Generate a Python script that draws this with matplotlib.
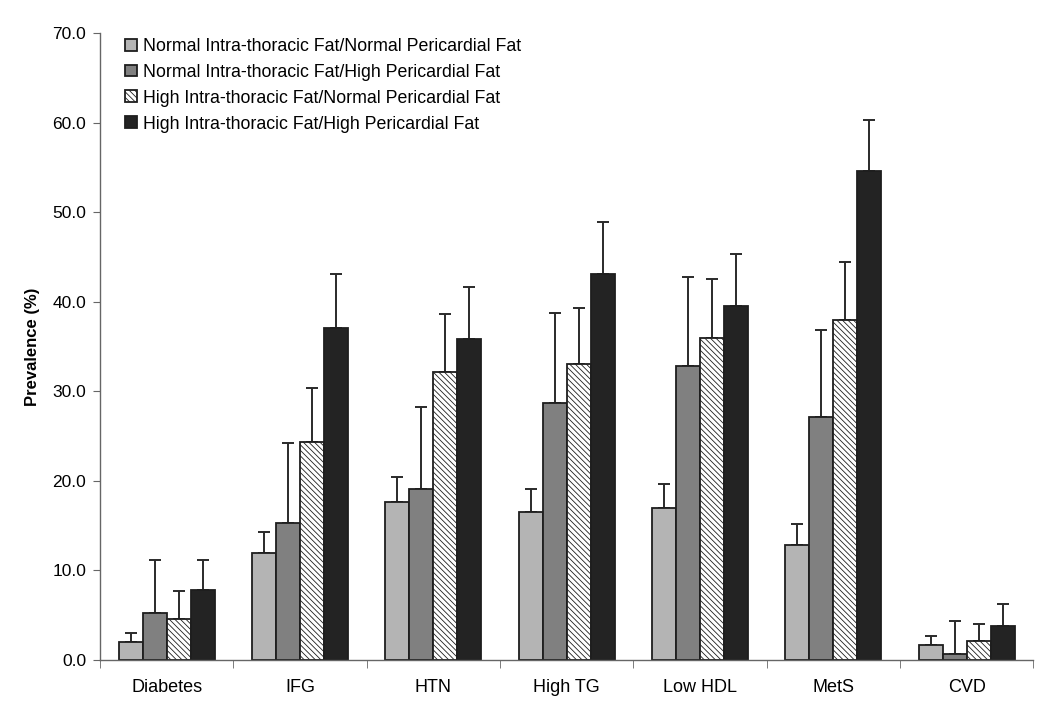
import numpy as np
import matplotlib.pyplot as plt
from matplotlib.ticker import FixedLocator, NullFormatter

plt.rcParams["font.family"] = ["Liberation Sans", "DejaVu Sans"]
plt.rcParams["hatch.color"] = "#5a5a5a"
plt.rcParams["hatch.linewidth"] = 0.6

categories = ["Diabetes", "IFG", "HTN", "High TG", "Low HDL", "MetS", "CVD"]
series = [
    "Normal Intra-thoracic Fat/Normal Pericardial Fat",
    "Normal Intra-thoracic Fat/High Pericardial Fat",
    "High Intra-thoracic Fat/Normal Pericardial Fat",
    "High Intra-thoracic Fat/High Pericardial Fat",
]
# prevalence (%) per series, one value per category
nn = [2.0, 11.9, 17.6, 16.5, 17.0, 12.8, 1.7]
nh = [5.2, 15.3, 19.1, 28.7, 32.8, 27.1, 0.7]
hn = [4.6, 24.3, 32.2, 33.0, 36.0, 38.0, 2.1]
hh = [7.8, 37.1, 35.9, 43.1, 39.5, 54.6, 3.8]
# upper end of the error bars
nn_hi = [3.0, 14.3, 20.4, 19.1, 19.6, 15.2, 2.7]
nh_hi = [11.2, 24.2, 28.2, 38.7, 42.8, 36.8, 4.3]
hn_hi = [7.7, 30.4, 38.6, 39.3, 42.6, 44.4, 4.0]
hh_hi = [11.2, 43.1, 41.7, 48.9, 45.3, 60.3, 6.3]

values = [nn, nh, hn, hh]
uppers = [nn_hi, nh_hi, hn_hi, hh_hi]
faces = ["#b4b4b4", "#808080", "white", "#232323"]
hatches = [None, None, "\\\\\\\\\\\\", None]

fig = plt.figure(figsize=(10.5, 7.18), dpi=100)
ax = fig.add_axes([0.0952, 0.0808, 0.889, 0.873])

x = np.arange(len(categories))
w = 0.18
for i, (vals, hi) in enumerate(zip(values, uppers)):
    pos = x + (i - 1.5) * w
    vals = np.array(vals)
    err = np.array(hi) - vals
    ax.bar(pos, vals, w, color=faces[i], edgecolor="#1e1e1e", linewidth=1.3,
           hatch=hatches[i], label=series[i], zorder=2)
    ax.errorbar(pos, vals, yerr=[np.zeros_like(err), err], fmt="none",
                ecolor="#2a2a2a", elinewidth=1.4, capsize=4, capthick=1.4, zorder=1)

ax.set_xlim(-0.5, len(categories) - 0.5)
ax.set_ylim(0, 70)
ax.set_yticks(np.arange(0, 71, 10))
ax.set_yticklabels([f"{v:.1f}" for v in np.arange(0, 71, 10)], fontsize=12.5)
ax.set_xticks(x)
ax.set_xticklabels(categories, fontsize=13)
ax.tick_params(axis="x", which="major", length=0, pad=14)
ax.xaxis.set_minor_locator(FixedLocator(np.arange(-0.5, len(categories), 1)))
ax.xaxis.set_minor_formatter(NullFormatter())
ax.tick_params(axis="x", which="minor", length=6, color="#666666")
ax.tick_params(axis="y", length=5, color="#666666", pad=5)
ax.set_ylabel("Prevalence (%)", fontsize=12, fontweight="bold", labelpad=9)

for s in ["top", "right"]:
    ax.spines[s].set_visible(False)
for s in ["left", "bottom"]:
    ax.spines[s].set_color("#666666")
    ax.spines[s].set_linewidth(1.0)

ax.legend(loc="upper left", bbox_to_anchor=(0.01, 1.018), frameon=False,
          fontsize=12.8, handlelength=0.65, handleheight=0.65, handletextpad=0.35,
          labelspacing=0.5)

fig.savefig("out.png", dpi=100)
